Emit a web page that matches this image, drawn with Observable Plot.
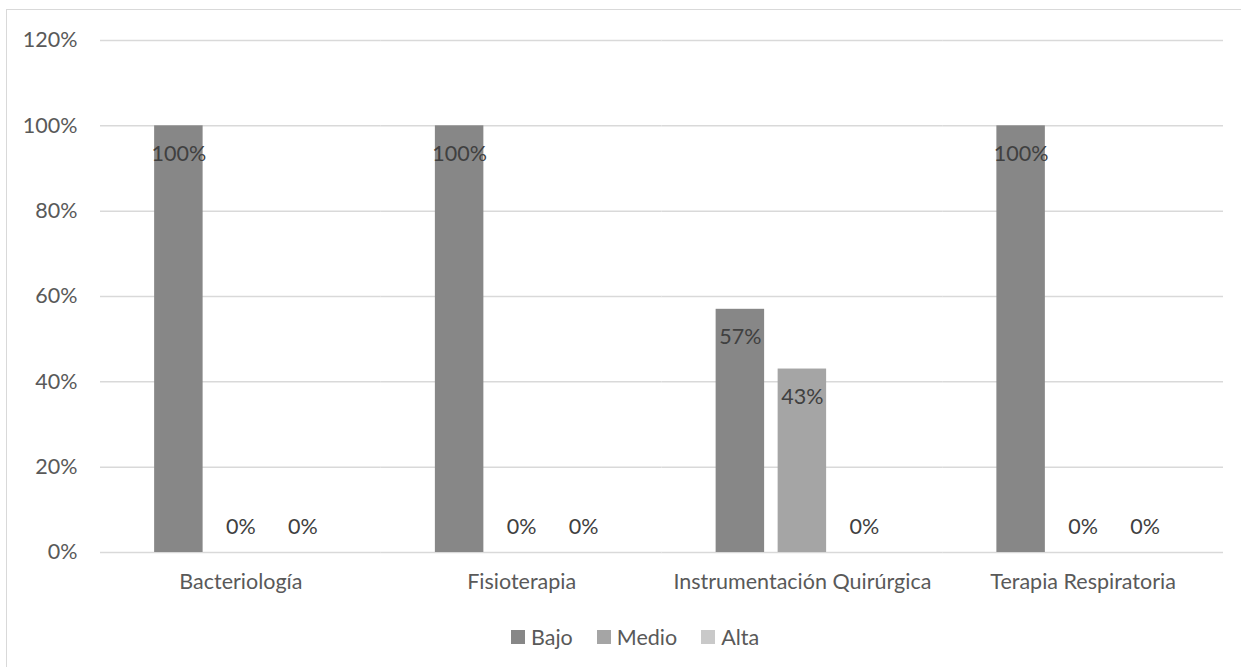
<!DOCTYPE html>
<html>
<head>
<meta charset="utf-8">
<script src="https://cdn.jsdelivr.net/npm/d3@7"></script>
<script src="https://cdn.jsdelivr.net/npm/@observablehq/plot@0.6"></script>
<style>
  html, body { margin: 0; padding: 0; background: #fff; }
  #wrap { position: relative; width: 1241px; height: 667px; overflow: hidden; font-family: Lato, sans-serif; }
  #frame { position: absolute; left: 6px; top: 9px; width: 1300px; height: 700px; border: 1.5px solid #d9d9d9; box-sizing: border-box; }
  #chart { position: absolute; left: 0; top: 0; }
  #legend { position: absolute; left: 511px; top: 620px; }
  #legend [class$="-swatch"] { margin-right: 24px; }
  #legend [class$="-swatch"] > svg { margin-right: 6px; }
</style>
</head>
<body>
<div id="wrap">
  <div id="frame"></div>
  <div id="chart"></div>
  <div id="legend"></div>
</div>
<script>
const categorias = ["Bacteriología", "Fisioterapia", "Instrumentación Quirúrgica", "Terapia Respiratoria"];
const series = ["Bajo", "Medio", "Alta"];
const bajo = [1.00, 1.00, 0.57, 1.00];
const medio = [0.00, 0.00, 0.43, 0.00];
const alta = [0.00, 0.00, 0.00, 0.00];
const colores = ["#878787", "#a5a5a5", "#c9c9c9"];
const yTicks = [0, 0.2, 0.4, 0.6, 0.8, 1.0, 1.2];

const valores = [bajo, medio, alta];
const data = [];
categorias.forEach((c, i) => {
  series.forEach((s, j) => {
    data.push({categoria: c, serie: s, valor: valores[j][i]});
  });
});

const pct = d3.format(".0%");
const FS = 21.5;

const chart = Plot.plot({
  width: 1241,
  height: 610,
  marginLeft: 100,
  marginRight: 18,
  marginTop: 40,
  marginBottom: 58,
  style: {fontFamily: "Lato, sans-serif", fontSize: FS + "px", color: "#595959", background: "transparent"},
  fx: {domain: categorias, padding: 0, round: false, axis: "bottom", label: null, tickSize: 0, tickPadding: 21},
  x: {domain: series, paddingInner: 0.218, paddingOuter: 0.873, round: false, axis: null},
  y: {domain: [0, 1.2], ticks: yTicks, tickFormat: pct, label: null, tickSize: 0, tickPadding: 23},
  color: {domain: series, range: colores},
  marks: [
    Plot.gridY(yTicks, {stroke: "#d9d9d9", strokeOpacity: 1, strokeWidth: 1.5}),
    Plot.barY(data, {fx: "categoria", x: "serie", y: "valor", fill: "serie", insetLeft: 0, insetRight: 0}),
    Plot.text(data.filter(d => d.valor > 0), {fx: "categoria", x: "serie", y: "valor", text: d => pct(d.valor), dy: 28, fill: "#404040", fontSize: FS}),
    Plot.text(data.filter(d => d.valor === 0), {fx: "categoria", x: "serie", y: "valor", text: d => pct(d.valor), dy: -25, fill: "#404040", fontSize: FS})
  ]
});
document.getElementById("chart").appendChild(chart);

const legend = Plot.legend({
  color: {domain: series, range: colores},
  legend: "swatches",
  swatchSize: 14,
  style: {fontFamily: "Lato, sans-serif", fontSize: FS + "px", color: "#595959"}
});
document.getElementById("legend").appendChild(legend);
</script>
</body>
</html>
